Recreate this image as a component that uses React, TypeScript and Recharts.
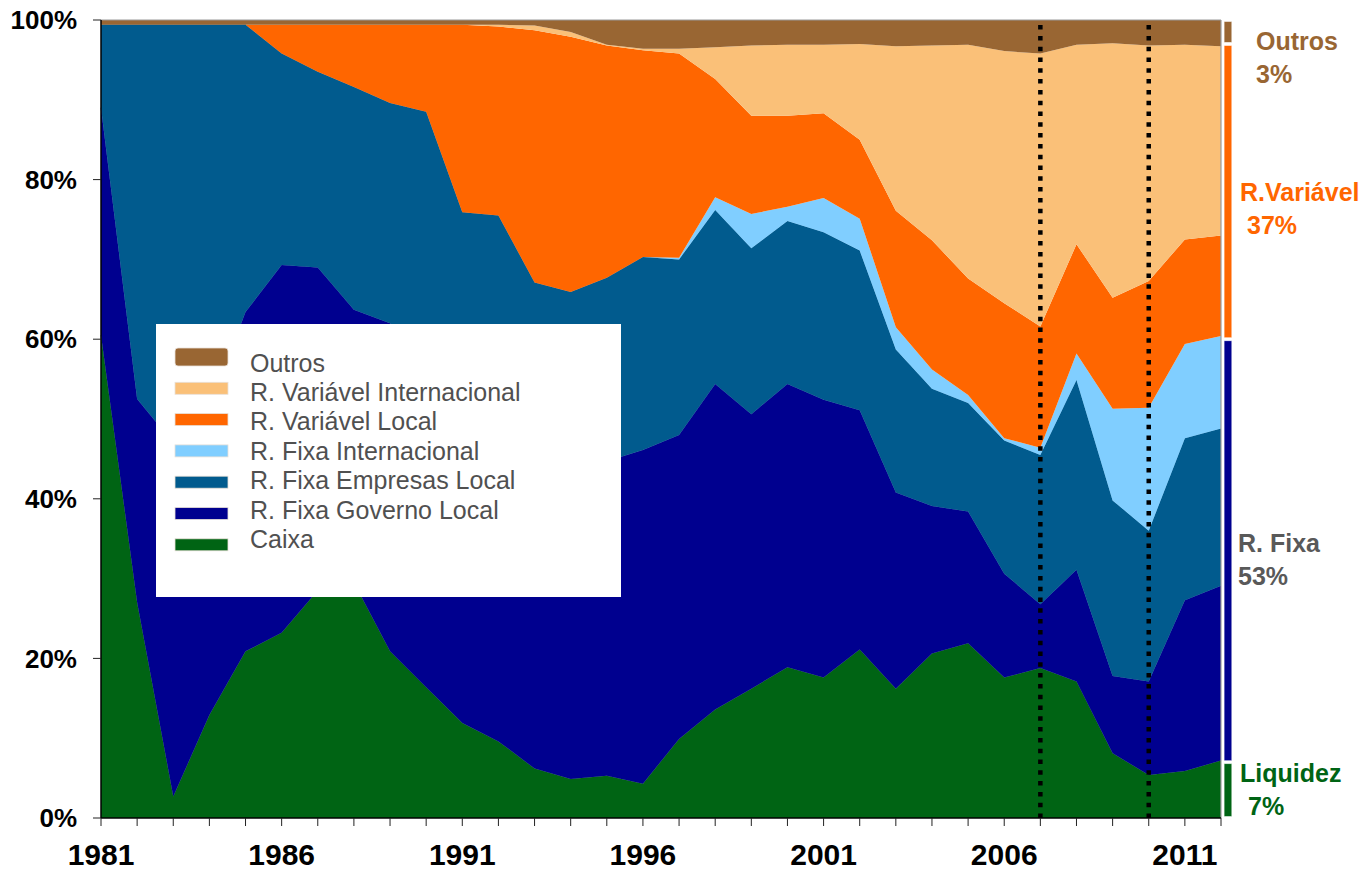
import React from 'react';
import {
  AreaChart,
  Area,
  XAxis,
  YAxis,
  ReferenceLine,
  ReferenceArea,
  Legend
} from 'recharts';

// Years on the x axis (one point per year)
const years = [
  1981, 1982, 1983, 1984, 1985, 1986, 1987, 1988, 1989, 1990, 1991,
  1992, 1993, 1994, 1995, 1996, 1997, 1998, 1999, 2000, 2001, 2002,
  2003, 2004, 2005, 2006, 2007, 2008, 2009, 2010, 2011, 2012
];

// Share of the portfolio (%) per asset class
const caixa = [
  60.5, 27.0, 2.7, 12.9, 20.9, 23.2, 28.5, 29.5, 20.9, 16.4, 11.9,
  9.6, 6.2, 4.9, 5.3, 4.3, 9.9, 13.6, 16.2, 18.9, 17.6, 21.1,
  16.2, 20.6, 21.9, 17.6, 18.8, 17.1, 8.1, 5.4, 5.9, 7.2
];
const fixaGoverno = [
  28.5, 25.5, 44.3, 38.6, 42.5, 46.1, 40.5, 34.2, 41.1, 41.6, 42.1,
  40.4, 40.8, 40.1, 39.4, 41.8, 38.1, 40.8, 34.4, 35.5, 34.8, 30.0,
  24.6, 18.5, 16.5, 13.0, 8.0, 14.0, 9.7, 11.7, 21.4, 21.9
];
const fixaEmpresas = [
  10.4, 46.9, 52.4, 47.9, 36.0, 26.5, 24.5, 27.9, 27.6, 30.5, 21.9,
  25.5, 20.1, 20.9, 23.0, 24.2, 22.0, 21.8, 20.8, 20.4, 21.0, 20.0,
  17.9, 14.7, 13.6, 16.7, 18.7, 23.8, 22.0, 18.9, 20.3, 19.7
];
const fixaInternacional = [
  0, 0, 0, 0, 0, 0, 0, 0, 0, 0, 0,
  0, 0, 0, 0, 0, 0.2, 1.6, 4.3, 1.8, 4.3, 4.0,
  2.8, 2.4, 1.0, 0.3, 0.9, 3.3, 11.5, 15.4, 11.8, 11.6
];
const variavelLocal = [
  0, 0, 0, 0, 0, 3.6, 5.9, 7.8, 9.8, 10.9, 23.5,
  23.7, 31.6, 32.0, 29.1, 25.9, 25.6, 14.8, 12.3, 11.4, 10.6, 9.9,
  14.6, 16.2, 14.6, 16.9, 15.2, 13.7, 13.9, 15.9, 13.1, 12.6
];
const variavelInternacional = [
  0, 0, 0, 0, 0, 0, 0, 0, 0, 0, 0,
  0.2, 0.6, 0.6, 0.1, 0.2, 0.6, 4.0, 8.8, 8.9, 8.6, 12.0,
  20.6, 24.4, 29.3, 31.6, 34.2, 25.0, 31.9, 29.5, 24.4, 23.7
];
const outros = [
  0.6, 0.6, 0.6, 0.6, 0.6, 0.6, 0.6, 0.6, 0.6, 0.6, 0.6,
  0.6, 0.7, 1.5, 3.1, 3.6, 3.6, 3.4, 3.2, 3.1, 3.1, 3.0,
  3.3, 3.2, 3.1, 3.9, 4.2, 3.1, 2.9, 3.2, 3.1, 3.3
];

// Axis ticks
const xLabelYears = [1981, 1986, 1991, 1996, 2001, 2006, 2011];
const yTicks = [0, 20, 40, 60, 80, 100];

// Dotted marker lines
const markerYears = [2007, 2010];

// Summary of the last year, drawn as a thin bar at the right of the plot
const summaryLabels = ['Liquidez', 'R. Fixa', 'R.Variável', 'Outros'];
const summaryValues = [7, 53, 37, 3];

const FONT = '"Liberation Sans", Arial, Helvetica, sans-serif';

interface SeriesDef {
  key: string;
  name: string;
  color: string;
  values: number[];
}

// Stacking order, bottom to top
const SERIES: SeriesDef[] = [
  { key: 'caixa', name: 'Caixa', color: '#006414', values: caixa },
  { key: 'fixaGoverno', name: 'R. Fixa Governo Local', color: '#00008F', values: fixaGoverno },
  { key: 'fixaEmpresas', name: 'R. Fixa Empresas Local', color: '#015B8E', values: fixaEmpresas },
  { key: 'fixaInternacional', name: 'R. Fixa Internacional', color: '#80CEFF', values: fixaInternacional },
  { key: 'variavelLocal', name: 'R. Variável Local', color: '#FF6600', values: variavelLocal },
  { key: 'variavelInternacional', name: 'R. Variável Internacional', color: '#FAC078', values: variavelInternacional },
  { key: 'outros', name: 'Outros', color: '#996633', values: outros }
];

const chartData = years.map((year, i) => {
  const row: Record<string, number> = { year };
  SERIES.forEach(s => {
    row[s.key] = s.values[i];
  });
  return row;
});

// Colours and label placement of the summary bar segments
const SUMMARY_STYLE = [
  { bar: '#006414', text: '#006414', x: 1240, y: 782, x2: 1248 },
  { bar: '#00008F', text: '#595959', x: 1238, y: 552, x2: 1238 },
  { bar: '#FF6600', text: '#FF6600', x: 1240, y: 201, x2: 1247 },
  { bar: '#996633', text: '#996633', x: 1256, y: 50, x2: 1256 }
];

const summaryBands = (() => {
  let start = 0;
  return summaryValues.map((v, i) => {
    const band = { y1: start, y2: start + v, label: summaryLabels[i], value: v, ...SUMMARY_STYLE[i] };
    start += v;
    return band;
  });
})();

// Legend box drawn inside the plot, listing series top to bottom
const renderLegend = () => {
  const items = [...SERIES].reverse();
  return (
    <svg width={465} height={273} style={{ display: 'block', background: '#fff' }}>
      {items.map((s, i) => {
        const h = i === 0 ? 18 : 12;
        const cy = 33 + i * 31.3;
        return (
          <g key={s.key}>
            <rect
              x={19}
              y={cy - h / 2}
              width={53}
              height={h}
              rx={i === 0 ? 3 : 0}
              fill={s.color}
              stroke="#e8e0d8"
              strokeWidth={0.8}
            />
            <text x={94} y={47.5 + i * 29.4} fontSize={25} fontFamily={FONT} fill="#505050">
              {s.name}
            </text>
          </g>
        );
      })}
    </svg>
  );
};

const App: React.FC = () => {
  return (
    <div style={{ position: 'absolute', left: 0, top: 0, width: 1371, height: 870, background: '#fff' }}>
      <AreaChart
        width={1371}
        height={870}
        data={chartData}
        margin={{ top: 20, right: 150, left: 0, bottom: 0 }}
      >
        <XAxis
          dataKey="year"
          type="number"
          domain={[1981, 2012]}
          ticks={years}
          interval={0}
          tickFormatter={(v: number) => (xLabelYears.includes(v) ? String(v) : '')}
          height={52}
          tickSize={8}
          tickMargin={18}
          tick={{ fill: '#000', fontSize: 30, fontWeight: 'bold', fontFamily: FONT }}
          axisLine={{ stroke: '#000', strokeWidth: 1.5 }}
          tickLine={{ stroke: '#222' }}
        />
        <YAxis
          type="number"
          domain={[0, 100]}
          ticks={yTicks}
          interval={0}
          allowDataOverflow
          tickFormatter={(v: number) => `${v}%`}
          width={101}
          tickSize={8}
          tickMargin={16}
          tick={{ fill: '#000', fontSize: 26, fontWeight: 'bold', fontFamily: FONT }}
          axisLine={{ stroke: '#000', strokeWidth: 1.5 }}
          tickLine={{ stroke: '#222' }}
        />
        {SERIES.map(s => {
          const hasGaps = s.values.some(v => v === 0);
          return (
            <Area
              key={s.key}
              type="linear"
              dataKey={s.key}
              name={s.name}
              stackId="1"
              fill={s.color}
              fillOpacity={1}
              stroke={hasGaps ? 'none' : s.color}
              strokeWidth={hasGaps ? 0 : 0.6}
              dot={false}
              activeDot={false}
              isAnimationActive={false}
            />
          );
        })}
        {/* thin frame on top and right of the plot */}
        <ReferenceLine y={100} stroke="#9a9a9a" strokeWidth={1.2} />
        <ReferenceLine x={2012} stroke="#9a9a9a" strokeWidth={1.2} />
        {markerYears.map(y => (
          <ReferenceLine
            key={y}
            x={y}
            stroke="#000"
            strokeWidth={4.5}
            strokeDasharray="4.5 6.3"
          />
        ))}
        {summaryBands.map(b => (
          <ReferenceArea
            key={b.label}
            x1={2012.085}
            x2={2012.3}
            y1={b.y1 + 0.18}
            y2={b.y2 - 0.18}
            fill={b.bar}
            fillOpacity={1}
            stroke="#fff"
            strokeWidth={0.6}
            ifOverflow="visible"
          />
        ))}
        <Legend
          layout="horizontal"
          verticalAlign="middle"
          align="center"
          content={renderLegend}
          wrapperStyle={{ position: 'absolute', left: 156, top: 324, width: 465, height: 273 }}
        />
      </AreaChart>

      {/* summary labels at the right edge */}
      <svg
        width={1371}
        height={870}
        style={{ position: 'absolute', left: 0, top: 0, pointerEvents: 'none' }}
      >
        {summaryBands.map(b => (
          <g key={b.label} fontFamily={FONT} fontWeight="bold" fontSize={25} fill={b.text}>
            <text x={b.x} y={b.y}>{b.label}</text>
            <text x={b.x2} y={b.y + 33}>{`${b.value}%`}</text>
          </g>
        ))}
      </svg>
    </div>
  );
};

export default App;
